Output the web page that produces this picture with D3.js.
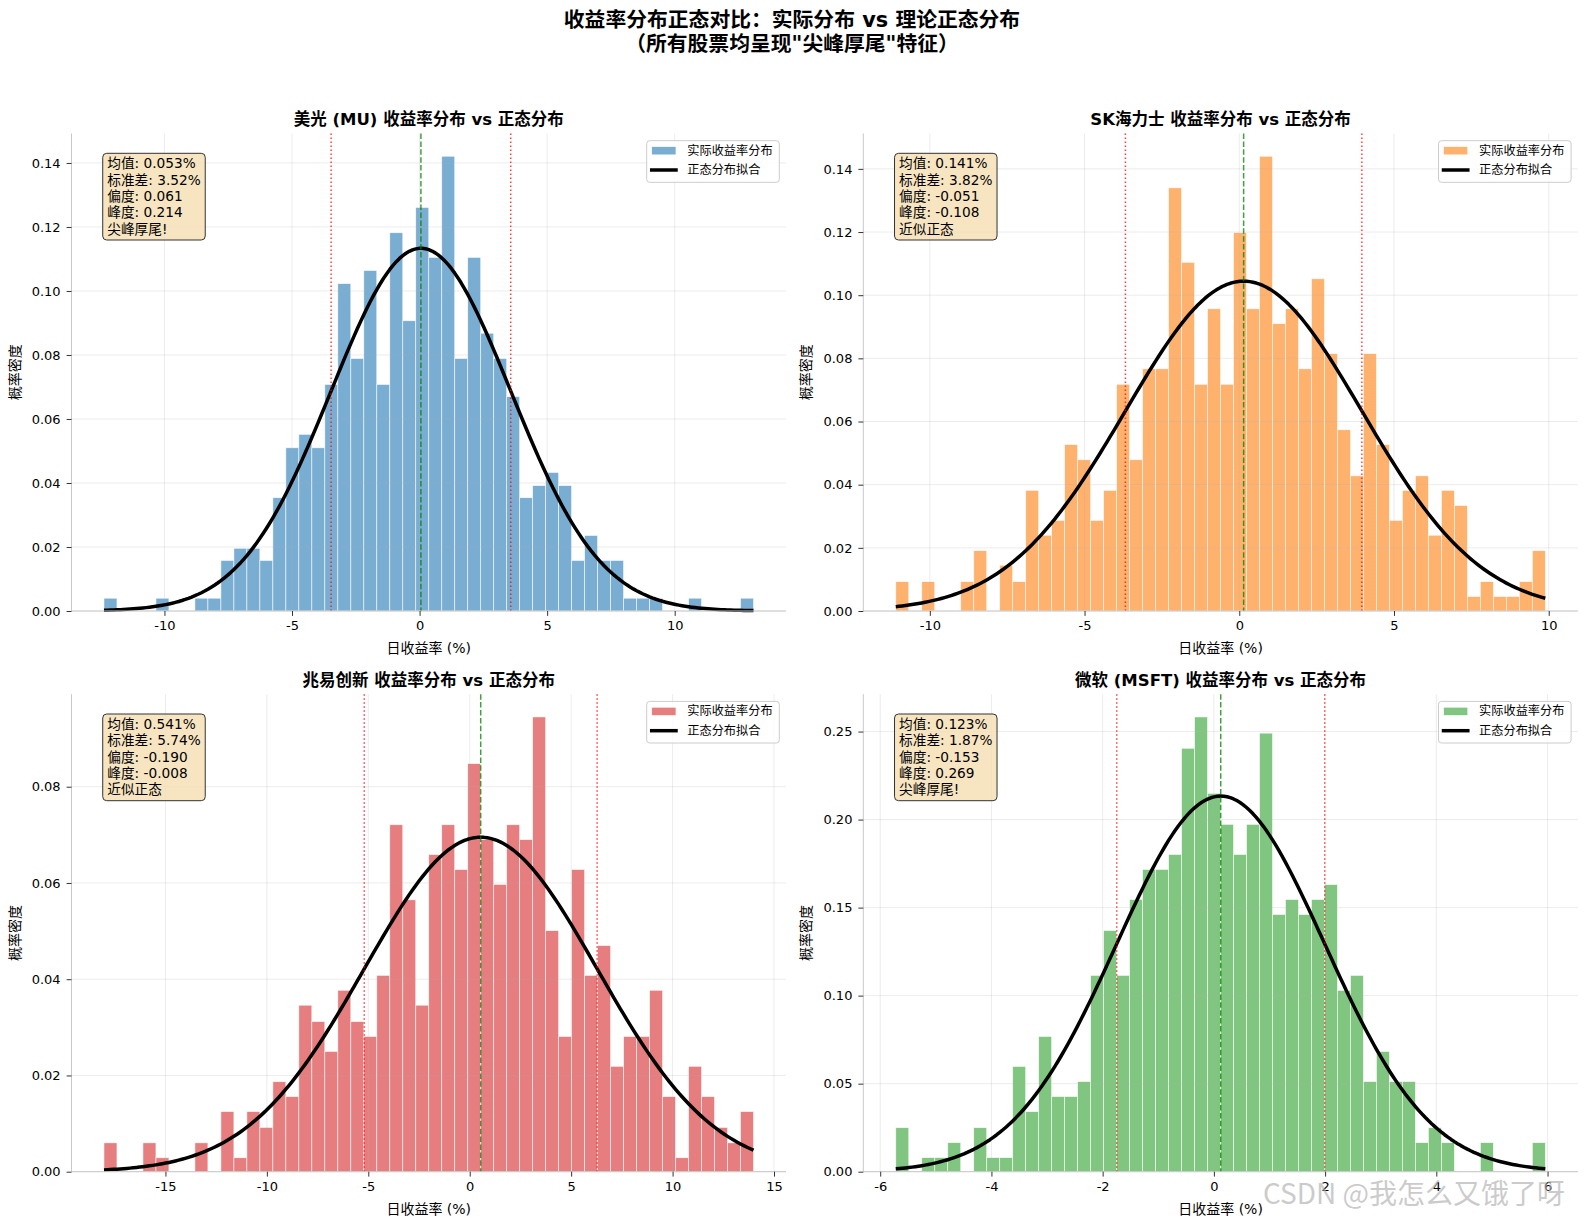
<!DOCTYPE html>
<html>
<head>
<meta charset="utf-8">
<script src="https://cdn.jsdelivr.net/npm/d3@7"></script>
<style>
  body { margin: 0; background: #fff; }
  svg { display: block; }
</style>
</head>
<body>
<div id="chart"></div>
<script>
// Values
const stockNames = ["美光 (MU)", "SK海力士", "兆易创新", "微软 (MSFT)"];
const barColors = ["#1f77b4", "#ff7f0e", "#d62728", "#2ca02c"];

// histogram range (first bin left edge, last bin right edge), 50 bins each
const binRanges = [[-12.37, 13.09], [-11.10, 9.89], [-18.03, 13.99], [-5.72, 5.96]];

const muDensity = [
  0.0040, 0, 0, 0, 0.0040, 0, 0, 0.0040, 0.0040, 0.0158,
  0.0196, 0.0196, 0.0158, 0.0354, 0.0510, 0.0552, 0.0510, 0.0708, 0.1023, 0.0789,
  0.1064, 0.0708, 0.1182, 0.0907, 0.1261, 0.1105, 0.1421, 0.0789, 0.1105, 0.0868,
  0.0789, 0.0670, 0.0354, 0.0392, 0.0433, 0.0392, 0.0158, 0.0236, 0.0158, 0.0158,
  0.0040, 0.0040, 0.0040, 0, 0, 0.0040, 0, 0, 0, 0.0040
];
const skDensity = [
  0.0093, 0, 0.0093, 0, 0, 0.0093, 0.0191, 0, 0.0145, 0.0093,
  0.0382, 0.0240, 0.0287, 0.0527, 0.0479, 0.0287, 0.0382, 0.0718, 0.0479, 0.0767,
  0.0767, 0.1340, 0.1104, 0.0718, 0.0957, 0.0718, 0.1198, 0.0957, 0.1440, 0.0910,
  0.0957, 0.0767, 0.1052, 0.0815, 0.0574, 0.0428, 0.0815, 0.0527, 0.0287, 0.0382,
  0.0428, 0.0240, 0.0382, 0.0334, 0.0046, 0.0093, 0.0046, 0.0046, 0.0093, 0.0191
];
const gdDensity = [
  0.0060, 0, 0, 0.0060, 0.0029, 0, 0, 0.0060, 0, 0.0125,
  0.0029, 0.0125, 0.0092, 0.0187, 0.0156, 0.0346, 0.0312, 0.0250, 0.0377, 0.0312,
  0.0281, 0.0408, 0.0721, 0.0565, 0.0346, 0.0659, 0.0721, 0.0628, 0.0848, 0.0690,
  0.0597, 0.0721, 0.0690, 0.0945, 0.0501, 0.0281, 0.0628, 0.0408, 0.0470, 0.0219,
  0.0281, 0.0281, 0.0377, 0.0156, 0.0029, 0.0219, 0.0156, 0.0092, 0.0060, 0.0125
];
const msftDensity = [
  0.0250, 0, 0.0080, 0.0080, 0.0165, 0, 0.0250, 0.0080, 0.0080, 0.0598,
  0.0341, 0.0768, 0.0427, 0.0427, 0.0512, 0.1115, 0.1370, 0.1115, 0.1546, 0.1717,
  0.1717, 0.1802, 0.2405, 0.2583, 0.2149, 0.1973, 0.1802, 0.1973, 0.2491, 0.1461,
  0.1546, 0.1461, 0.1546, 0.1631, 0.1030, 0.1115, 0.0512, 0.0683, 0.0512, 0.0512,
  0.0165, 0.0250, 0.0165, 0, 0, 0.0165, 0, 0, 0, 0.0165
];
const densities = [muDensity, skDensity, gdDensity, msftDensity];

// printed statistics (mean / std in %)
const meanValues = [0.053, 0.141, 0.541, 0.123];
const stdValues = [3.52, 3.82, 5.74, 1.87];
const skewLabels = ["0.061", "-0.051", "-0.190", "-0.153"];
const kurtLabels = ["0.214", "-0.108", "-0.008", "0.269"];
const verdictLabels = ["尖峰厚尾!", "近似正态", "近似正态", "尖峰厚尾!"];

const xTickValues = [
  [-10, -5, 0, 5, 10],
  [-10, -5, 0, 5, 10],
  [-15, -10, -5, 0, 5, 10, 15],
  [-6, -4, -2, 0, 2, 4, 6]
];
const yTickValues = [
  [0, 0.02, 0.04, 0.06, 0.08, 0.10, 0.12, 0.14],
  [0, 0.02, 0.04, 0.06, 0.08, 0.10, 0.12, 0.14],
  [0, 0.02, 0.04, 0.06, 0.08],
  [0, 0.05, 0.10, 0.15, 0.20, 0.25]
];

const legendLabels = ["实际收益率分布", "正态分布拟合"];
const titleLines = ["收益率分布正态对比：实际分布 vs 理论正态分布", "（所有股票均呈现\"尖峰厚尾\"特征）"];

// Layout
const figW = 1587, figH = 1227;
const colLeft = [71.5, 863.3], rowTop = [133.5, 694.2];
const panelW = 714.5, panelH = 477.5;
const fontStack = '"DejaVu Sans", "Noto Sans CJK SC", sans-serif';

const svg = d3.select("#chart")
  .append("svg")
    .attr("width", figW)
    .attr("height", figH)
    .style("font-family", fontStack);

// Suptitle
svg.append("g").selectAll("text")
  .data(titleLines)
  .join("text")
    .attr("x", 792)
    .attr("y", (d, i) => 20 + i * 23.5)
    .attr("text-anchor", "middle")
    .attr("dominant-baseline", "central")
    .style("font-size", "20.8px")
    .style("font-weight", "bold")
    .text(d => d);

const normalPdf = (x, m, s) => Math.exp(-0.5 * ((x - m) / s) ** 2) / (s * Math.sqrt(2 * Math.PI));

stockNames.forEach(function(name, p) {
  const L = colLeft[p % 2], T = rowTop[Math.floor(p / 2)];
  const R = L + panelW, B = T + panelH;
  const dens = densities[p];
  const [lo, hi] = binRanges[p];
  const binW = (hi - lo) / dens.length;
  const pad = (hi - lo) * 0.05;
  const color = barColors[p];
  const m = meanValues[p], s = stdValues[p];

  const x = d3.scaleLinear().domain([lo - pad, hi + pad]).range([L, R]);
  const y = d3.scaleLinear().domain([0, d3.max(dens) * 1.05]).range([B, T]);

  const g = svg.append("g");

  // Bars
  g.append("g").selectAll("rect")
    .data(dens.map((d, i) => ({x0: lo + i * binW, x1: lo + (i + 1) * binW, v: d})).filter(d => d.v > 0))
    .join("rect")
      .attr("x", d => x(d.x0))
      .attr("width", d => x(d.x1) - x(d.x0))
      .attr("y", d => y(d.v))
      .attr("height", d => y(0) - y(d.v))
      .attr("fill", color)
      .attr("fill-opacity", 0.6)
      .attr("stroke", "#fff")
      .attr("stroke-opacity", 0.8)
      .attr("stroke-width", 0.7);

  // Grid (on top of the bars, like matplotlib)
  const grid = g.append("g")
    .attr("stroke", "#b0b0b0")
    .attr("stroke-opacity", 0.3)
    .attr("stroke-width", 0.8);
  grid.selectAll(".gx")
    .data(xTickValues[p])
    .join("line")
      .attr("x1", d => x(d)).attr("x2", d => x(d))
      .attr("y1", T).attr("y2", B);
  grid.selectAll(".gy")
    .data(yTickValues[p])
    .join("line")
      .attr("x1", L).attr("x2", R)
      .attr("y1", d => y(d)).attr("y2", d => y(d));

  // Normal fit curve
  const curveX = d3.range(201).map(i => lo + (hi - lo) * i / 200);
  const line = d3.line()
    .x(d => x(d))
    .y(d => y(normalPdf(d, m, s)));
  g.append("path")
    .datum(curveX)
    .attr("fill", "none")
    .attr("stroke", "#000")
    .attr("stroke-width", 3.5)
    .attr("stroke-linejoin", "round")
    .attr("d", line);

  // Mean and +-1 std lines
  g.append("line")
    .attr("x1", x(m)).attr("x2", x(m))
    .attr("y1", T).attr("y2", B)
    .attr("stroke", "#008000")
    .attr("stroke-opacity", 0.75)
    .attr("stroke-width", 1.5)
    .attr("stroke-dasharray", "5.5,2.4");
  g.selectAll(".std")
    .data([m - s, m + s])
    .join("line")
      .attr("x1", d => x(d)).attr("x2", d => x(d))
      .attr("y1", T).attr("y2", B)
      .attr("stroke", "#ff0000")
      .attr("stroke-opacity", 0.75)
      .attr("stroke-width", 1.5)
      .attr("stroke-dasharray", "1.5,2.5");

  // Spines (left + bottom only)
  g.append("line")
    .attr("x1", L).attr("x2", L).attr("y1", T).attr("y2", B)
    .attr("stroke", "#c8c8c8").attr("stroke-width", 1);
  g.append("line")
    .attr("x1", L).attr("x2", R).attr("y1", B).attr("y2", B)
    .attr("stroke", "#c8c8c8").attr("stroke-width", 1);

  // Axes (plain hyphen minus, as in the reference)
  const xAxis = g.append("g")
    .attr("transform", `translate(0,${B})`)
    .call(d3.axisBottom(x).tickValues(xTickValues[p]).tickFormat(d => String(d)).tickSize(4.9).tickPadding(5));
  const yAxis = g.append("g")
    .attr("transform", `translate(${L},0)`)
    .call(d3.axisLeft(y).tickValues(yTickValues[p]).tickFormat(d => d.toFixed(2)).tickSize(4.9).tickPadding(6));
  [xAxis, yAxis].forEach(a => {
    a.select(".domain").remove();
    a.selectAll(".tick line").attr("stroke", "#333");
    a.selectAll(".tick text")
      .style("font-family", fontStack)
      .style("font-size", "13px")
      .attr("fill", "#000");
  });

  // Axis labels
  g.append("text")
    .attr("x", (L + R) / 2)
    .attr("y", B + 37)
    .attr("text-anchor", "middle")
    .attr("dominant-baseline", "central")
    .style("font-size", "14px")
    .text("日收益率 (%)");
  g.append("text")
    .attr("transform", `translate(${L - 57},${(T + B) / 2}) rotate(-90)`)
    .attr("text-anchor", "middle")
    .attr("dominant-baseline", "central")
    .style("font-size", "14px")
    .text("概率密度");

  // Title
  g.append("text")
    .attr("x", (L + R) / 2)
    .attr("y", T - 14)
    .attr("text-anchor", "middle")
    .attr("dominant-baseline", "central")
    .style("font-size", "16.5px")
    .style("font-weight", "bold")
    .text(name + " 收益率分布 vs 正态分布");

  // Stats box
  const statLines = [
    "均值: " + m.toFixed(3) + "%",
    "标准差: " + s.toFixed(2) + "%",
    "偏度: " + skewLabels[p],
    "峰度: " + kurtLabels[p],
    verdictLabels[p]
  ];
  const boxRect = g.append("rect");
  const statText = g.append("g");
  statText.selectAll("text")
    .data(statLines)
    .join("text")
      .attr("x", L + panelW * 0.05)
      .attr("y", (d, i) => T + 29.8 + i * 16.35)
      .attr("dominant-baseline", "central")
      .style("font-size", "13.7px")
      .text(d => d);
  const bb = statText.node().getBBox();
  boxRect
    .attr("x", L + panelW * 0.05 - 4.5)
    .attr("y", T + 19.8)
    .attr("width", bb.width + 9)
    .attr("height", 86.7)
    .attr("rx", 4)
    .attr("fill", "#f5deb3")
    .attr("fill-opacity", 0.8)
    .attr("stroke", "#333")
    .attr("stroke-width", 1);

  // Legend
  const lg = g.append("g");
  lg.append("rect")
    .attr("x", R - 139.3).attr("y", T + 7.2)
    .attr("width", 132.6).attr("height", 41.6)
    .attr("rx", 3)
    .attr("fill", "#fff").attr("fill-opacity", 0.8)
    .attr("stroke", "#cccccc").attr("stroke-width", 1);
  lg.append("rect")
    .attr("x", R - 134.3).attr("y", T + 17.2 - 4.2)
    .attr("width", 24.3).attr("height", 8.4)
    .attr("fill", color).attr("fill-opacity", 0.6)
    .attr("stroke", "#fff").attr("stroke-width", 0.7);
  lg.append("line")
    .attr("x1", R - 134.3).attr("x2", R - 110)
    .attr("y1", T + 36.5).attr("y2", T + 36.5)
    .attr("stroke", "#000").attr("stroke-width", 3.5)
    .attr("stroke-linecap", "square");
  lg.selectAll(".lt")
    .data(legendLabels)
    .join("text")
      .attr("x", R - 98.7)
      .attr("y", (d, i) => T + 17.2 + i * 19.3)
      .attr("dominant-baseline", "central")
      .style("font-size", "12.2px")
      .text(d => d);
});

// Watermark (overlays the bottom-right corner, as in the reference)
svg.append("text")
  .attr("x", 1565)
  .attr("y", 1192)
  .attr("text-anchor", "end")
  .attr("dominant-baseline", "central")
  .style("font-family", '"Noto Sans CJK SC", sans-serif')
  .style("font-size", "28px")
  .attr("fill", "#b4b4b4")
  .attr("fill-opacity", 0.7)
  .text("CSDN @我怎么又饿了呀");
</script>
</body>
</html>
